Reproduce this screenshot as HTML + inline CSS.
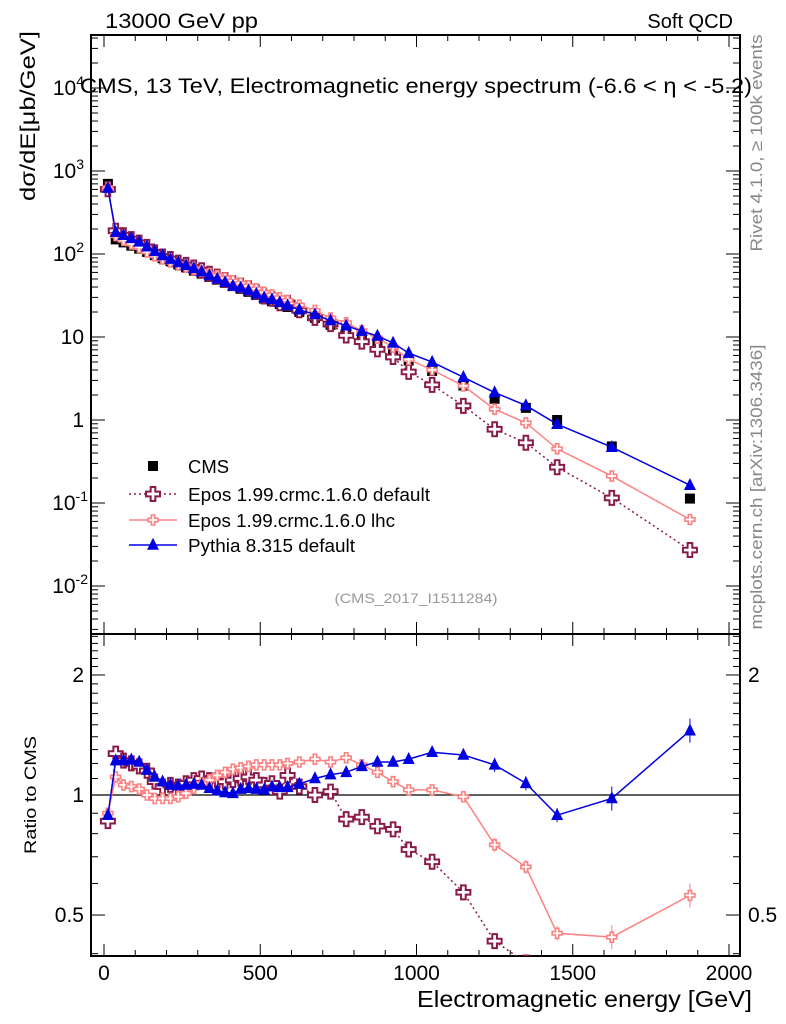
<!DOCTYPE html>
<html><head><meta charset="utf-8"><style>
html,body{margin:0;padding:0;background:#fff;}
svg{display:block;font-family:"Liberation Sans",sans-serif;}
</style></head><body>
<svg id="chart" width="786" height="1024" viewBox="0 0 786 1024" xmlns="http://www.w3.org/2000/svg">
<g id="axes"></g>
<g id="series"></g>
<text x="105" y="28" font-size="21" textLength="153" lengthAdjust="spacingAndGlyphs">13000 GeV pp</text>
<text x="733" y="28" font-size="20" text-anchor="end">Soft QCD</text>
<text x="80" y="93" font-size="21" textLength="672" lengthAdjust="spacingAndGlyphs">CMS, 13 TeV, Electromagnetic energy spectrum (-6.6 &lt; η &lt; -5.2)</text>
<text transform="translate(35,116) rotate(-90)" font-size="21" text-anchor="middle" textLength="170" lengthAdjust="spacingAndGlyphs">dσ/dE[μb/GeV]</text>
<text transform="translate(762,143) rotate(-90)" font-size="17" fill="#888" text-anchor="middle" textLength="217" lengthAdjust="spacingAndGlyphs">Rivet 4.1.0, ≥ 100k events</text>
<text transform="translate(762,487) rotate(-90)" font-size="17" fill="#888" text-anchor="middle" textLength="285" lengthAdjust="spacingAndGlyphs">mcplots.cern.ch [arXiv:1306.3436]</text>
<text x="416" y="603" font-size="14" fill="#999" text-anchor="middle" textLength="163" lengthAdjust="spacingAndGlyphs">(CMS_2017_I1511284)</text>
<text transform="translate(36,795) rotate(-90)" font-size="17" text-anchor="middle" textLength="118" lengthAdjust="spacingAndGlyphs">Ratio to CMS</text>
<text x="752" y="1007" font-size="23" text-anchor="end" textLength="335" lengthAdjust="spacingAndGlyphs">Electromagnetic energy [GeV]</text>
<g id="legend"></g>
</svg>
<script>
const energy = [12.5,37.5,62.5,87.5,112.5,137.5,162.5,187.5,212.5,237.5,262.5,287.5,312.5,337.5,362.5,387.5,412.5,437.5,462.5,487.5,512.5,537.5,562.5,587.5,625,675,725,775,825,875,925,975,1050,1150,1250,1350,1450,1625,1875];
const cmsValues = [700,150,138,126,116,106,97,89,82,75,69,63,58,53,49,45,41,38,35,32,29,27,25,23,20,17,14,12,10,8.5,7.0,5.2,3.9,2.6,1.8,1.4,1.0,0.48,0.113];
const eposDefaultRatio = [0.86,1.27,1.22,1.2,1.18,1.15,1.08,1.05,1.06,1.05,1.07,1.09,1.1,1.09,1.09,1.08,1.09,1.1,1.11,1.09,1.06,1.07,1.02,1.12,1.05,1.0,1.02,0.87,0.88,0.835,0.82,0.73,0.68,0.57,0.43,0.38,0.27,0.24,0.24];
const eposLhcRatio = [0.90,1.11,1.06,1.05,1.035,1.0,0.98,0.98,0.98,0.99,1.01,1.04,1.07,1.09,1.12,1.14,1.16,1.17,1.18,1.19,1.19,1.19,1.19,1.2,1.21,1.23,1.21,1.24,1.19,1.14,1.08,1.03,1.03,0.99,0.75,0.66,0.45,0.44,0.56];
const pythiaRatio = [0.89,1.22,1.22,1.225,1.21,1.155,1.11,1.08,1.06,1.055,1.06,1.065,1.06,1.04,1.025,1.015,1.01,1.035,1.04,1.035,1.03,1.05,1.045,1.045,1.065,1.1,1.125,1.14,1.18,1.21,1.21,1.23,1.28,1.26,1.19,1.07,0.89,0.98,1.45];
const xTicks = [0,500,1000,1500,2000];
const mainYTicks = [4,3,2,1,0,-1,-2];
const ratioYTicks = [0.5,1,2];

const NS="http://www.w3.org/2000/svg";
const L=91,R=740,MT=35,MB=634,RB=956;
const X=e=>104+e*0.3125;
const Y=v=>420-83*Math.log10(v);
const YR=r=>795-398.7*Math.log10(r);
function mk(tag,attrs,parent){const el=document.createElementNS(NS,tag);for(const k in attrs)el.setAttribute(k,attrs[k]);parent.appendChild(el);return el;}
const axes=document.getElementById('axes'),series=document.getElementById('series'),legend=document.getElementById('legend');

let f=mk('rect',{x:L,y:MT,width:R-L,height:MB-MT,fill:'none',stroke:'#000','stroke-width':2},axes);


f=mk('rect',{x:L,y:MB,width:R-L,height:RB-MB,fill:'none',stroke:'#000','stroke-width':2},axes);


let ul=mk('line',{x1:L,x2:R,y1:YR(1),y2:YR(1),stroke:'#000','stroke-width':1.2},axes);



for(let e=0;e<=2000;e+=100){const maj=e%500===0,len=maj?12:6,x=X(e);
 for(const [y0,d] of [[MT,1],[MB,-1],[MB,1],[RB,-1]]) mk('line',{x1:x,x2:x,y1:y0,y2:y0+d*len,stroke:'#000','stroke-width':1},axes);}
xTicks.forEach(t=>{const tx=mk('text',{x:X(t),y:980,'font-size':21,'text-anchor':'middle'},axes);tx.textContent=t;
 
 });
for(let d=-3;d<=4;d++){for(let m=1;m<10;m++){const v=m*Math.pow(10,d),y=Y(v);if(y<MT||y>MB)continue;const len=m===1?14:7;
 mk('line',{x1:L,x2:L+len,y1:y,y2:y,stroke:'#000'},axes);mk('line',{x1:R,x2:R-len,y1:y,y2:y,stroke:'#000'},axes);}}
mainYTicks.forEach(p=>{const tx=mk('text',{x:p<0?88:84,y:Y(Math.pow(10,p))+7,'font-size':21,'text-anchor':'end'},axes);
 
 
 if(p===0)tx.textContent='1';else if(p===1)tx.textContent='10';else{tx.textContent='10';const s=mk('tspan',{dy:-9,'font-size':14},tx);s.textContent=p;}});
for(const r of [0.4,0.5,0.6,0.7,0.8,0.9,1,1.1,1.2,1.3,1.4,1.5,1.6,1.7,1.8,1.9,2,2.1,2.2,2.3,2.4,2.5]){const y=YR(r);if(y<MB||y>RB)continue;const len=(r===0.5||r===1||r===2)?14:7;
 mk('line',{x1:L,x2:L+len,y1:y,y2:y,stroke:'#000'},axes);mk('line',{x1:R,x2:R-len,y1:y,y2:y,stroke:'#000'},axes);}
ratioYTicks.forEach(r=>{const tx=mk('text',{x:84,y:YR(r)+7,'font-size':21,'text-anchor':'end'},axes);tx.textContent=r;
 
 
 if(r!==1){const t2=mk('text',{x:748,y:YR(r)+7,'font-size':21},axes);t2.textContent=r;
 
 }});

const defs=mk('defs',{},series);
const c1=mk('clipPath',{id:'cm'},defs);mk('rect',{x:L,y:MT,width:R-L,height:MB-MT},c1);
const c2=mk('clipPath',{id:'cr'},defs);mk('rect',{x:L,y:MB,width:R-L,height:RB-MB},c2);
const gm=mk('g',{'clip-path':'url(#cm)'},series),gr=mk('g',{'clip-path':'url(#cr)'},series);

function cross(g,x,y,s,col,w){const a=s/2,b=s/6;
 return mk('path',{d:`M${x-b},${y-a}h${2*b}v${a-b}h${a-b}v${2*b}h${b-a}v${a-b}h${-2*b}v${b-a}h${b-a}v${-2*b}h${a-b}z`,fill:'#fff',stroke:col,'stroke-width':w},g);}
function tri(g,x,y,s,col){return mk('path',{d:`M${x},${y-s*0.6}L${x+s/2},${y+s*0.4}L${x-s/2},${y+s*0.4}z`,fill:col},g);}

const defs2=[
 {name:'epos-default',ratio:eposDefaultRatio,col:'#8b1a4a',dash:'2,3',mark:(g,x,y)=>cross(g,x,y,14,'#8b1a4a',2)},
 {name:'epos-lhc',ratio:eposLhcRatio,col:'#ff8080',dash:null,mark:(g,x,y)=>cross(g,x,y,10,'#ff8080',1.6)},
 {name:'pythia',ratio:pythiaRatio,col:'#0000e0',dash:null,mark:(g,x,y)=>tri(g,x,y,12,'#0000e0')}];

energy.forEach((e,i)=>{const r=mk('rect',{x:X(e)-5,y:Y(cmsValues[i])-5,width:10,height:10,fill:'#000'},gm);
 
 });
defs2.forEach(s=>{
 const mp=energy.map((e,i)=>X(e)+','+Y(cmsValues[i]*s.ratio[i])).join(' ');
 const rp=energy.map((e,i)=>X(e)+','+YR(s.ratio[i])).join(' ');
 const a={fill:'none',stroke:s.col,'stroke-width':1.5};if(s.dash)a['stroke-dasharray']=s.dash;
 const l1=mk('polyline',Object.assign({points:mp},a),gm);
 
 
 const l2=mk('polyline',Object.assign({points:rp},a),gr);
 
 
 energy.forEach((e,i)=>{
  if(e>1200){const yr=YR(s.ratio[i]),h=e>1500?12:7;mk('line',{x1:X(e),x2:X(e),y1:yr-h,y2:yr+h,stroke:s.col,'stroke-width':1},gr);}
  const m1=s.mark(gm,X(e),Y(cmsValues[i]*s.ratio[i]));
  
  
  const m2=s.mark(gr,X(e),YR(s.ratio[i]));
  
  });
});

const ly=[466,494,520,545],labels=['CMS','Epos 1.99.crmc.1.6.0 default','Epos 1.99.crmc.1.6.0 lhc','Pythia 8.315 default'],lw=[41,242,207,167];
const ls=mk('rect',{x:148,y:ly[0]-5,width:10,height:10,fill:'#000'},legend);


defs2.forEach((s,i)=>{const y=ly[i+1];const a={x1:129,x2:177,y1:y,y2:y,stroke:s.col,'stroke-width':1.5};if(s.dash)a['stroke-dasharray']=s.dash;mk('line',a,legend);
 const m=s.mark(legend,153,y);
 
 });
labels.forEach((t,i)=>{const tx=mk('text',{x:188,y:ly[i]+7,'font-size':18,textLength:lw[i],lengthAdjust:'spacingAndGlyphs'},legend);tx.textContent=t;
 
 });
</script>
</body></html>
